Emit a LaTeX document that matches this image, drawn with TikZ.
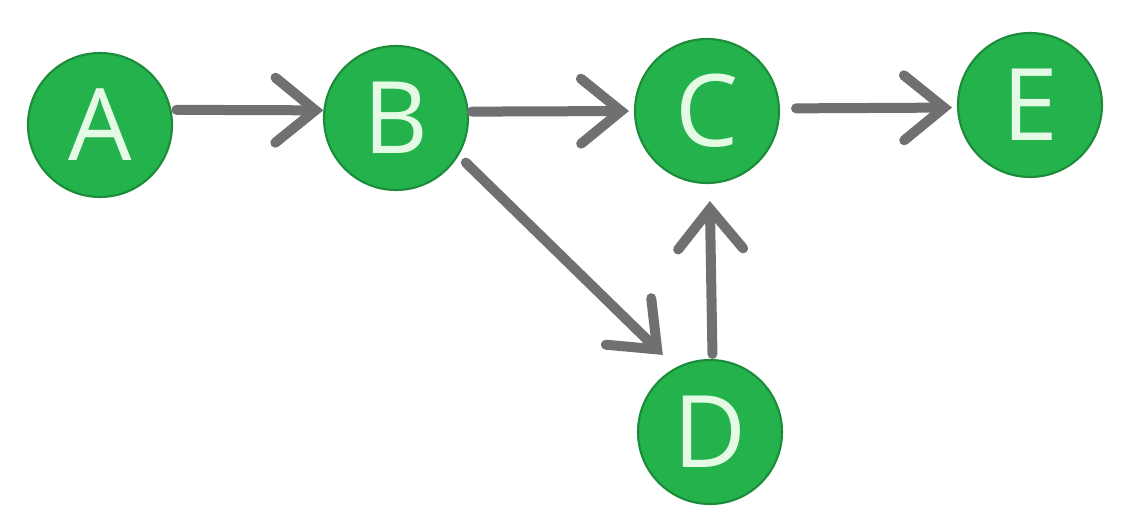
\documentclass[tikz,border=0pt]{standalone}
\usepackage{fontspec}
\setmainfont{Open Sans}
\usepackage{tikz}
\usetikzlibrary{arrows.meta}

\definecolor{nodegreen}{RGB}{36,178,76}
\definecolor{edgegreen}{RGB}{28,140,58}
\definecolor{lettergreen}{RGB}{228,250,228}
\definecolor{arrowgray}{RGB}{112,112,114}

\tikzset{
  vertex/.style={circle, fill=nodegreen, draw=edgegreen, line width=0.6pt,
    minimum size=1.44cm, inner sep=0pt, text=lettergreen,
    font=\fontsize{28.5}{30}\selectfont},
  link/.style={arrowgray, line width=0.1cm, line cap=round,
    -{Straight Barb[length=4mm,width=6.5mm,line cap=round]}}
}

\begin{document}
\begin{tikzpicture}
	\useasboundingbox (0,0) rectangle (11.36,5.28);
	\node[vertex] (A) at (1.00,4.03) {A};
	\node[vertex] (B) at (3.96,4.10) {B};
	\node[vertex] (C) at (7.07,4.17) {C};
	\node[vertex] (E) at (10.30,4.23) {E};
	\node[vertex] (D) at (7.10,0.96) {D};
% edges
	\draw[link, shorten <=0.05cm] (A.12) -- (B.174);
	\draw[link, shorten <=0.03cm, shorten >=0.05cm] (B.5) -- (C.180);
	\draw[link, shorten <=0.16cm, shorten >=0.05cm] (C.2) -- (E.182);
	\draw[link, shorten <=0.1cm, shorten >=0.18cm] (B.-31) -- (D.118);
	\draw[link, shorten <=0.05cm, shorten >=0.17cm] (D.88) -- (C.272);
\end{tikzpicture}
\end{document}
